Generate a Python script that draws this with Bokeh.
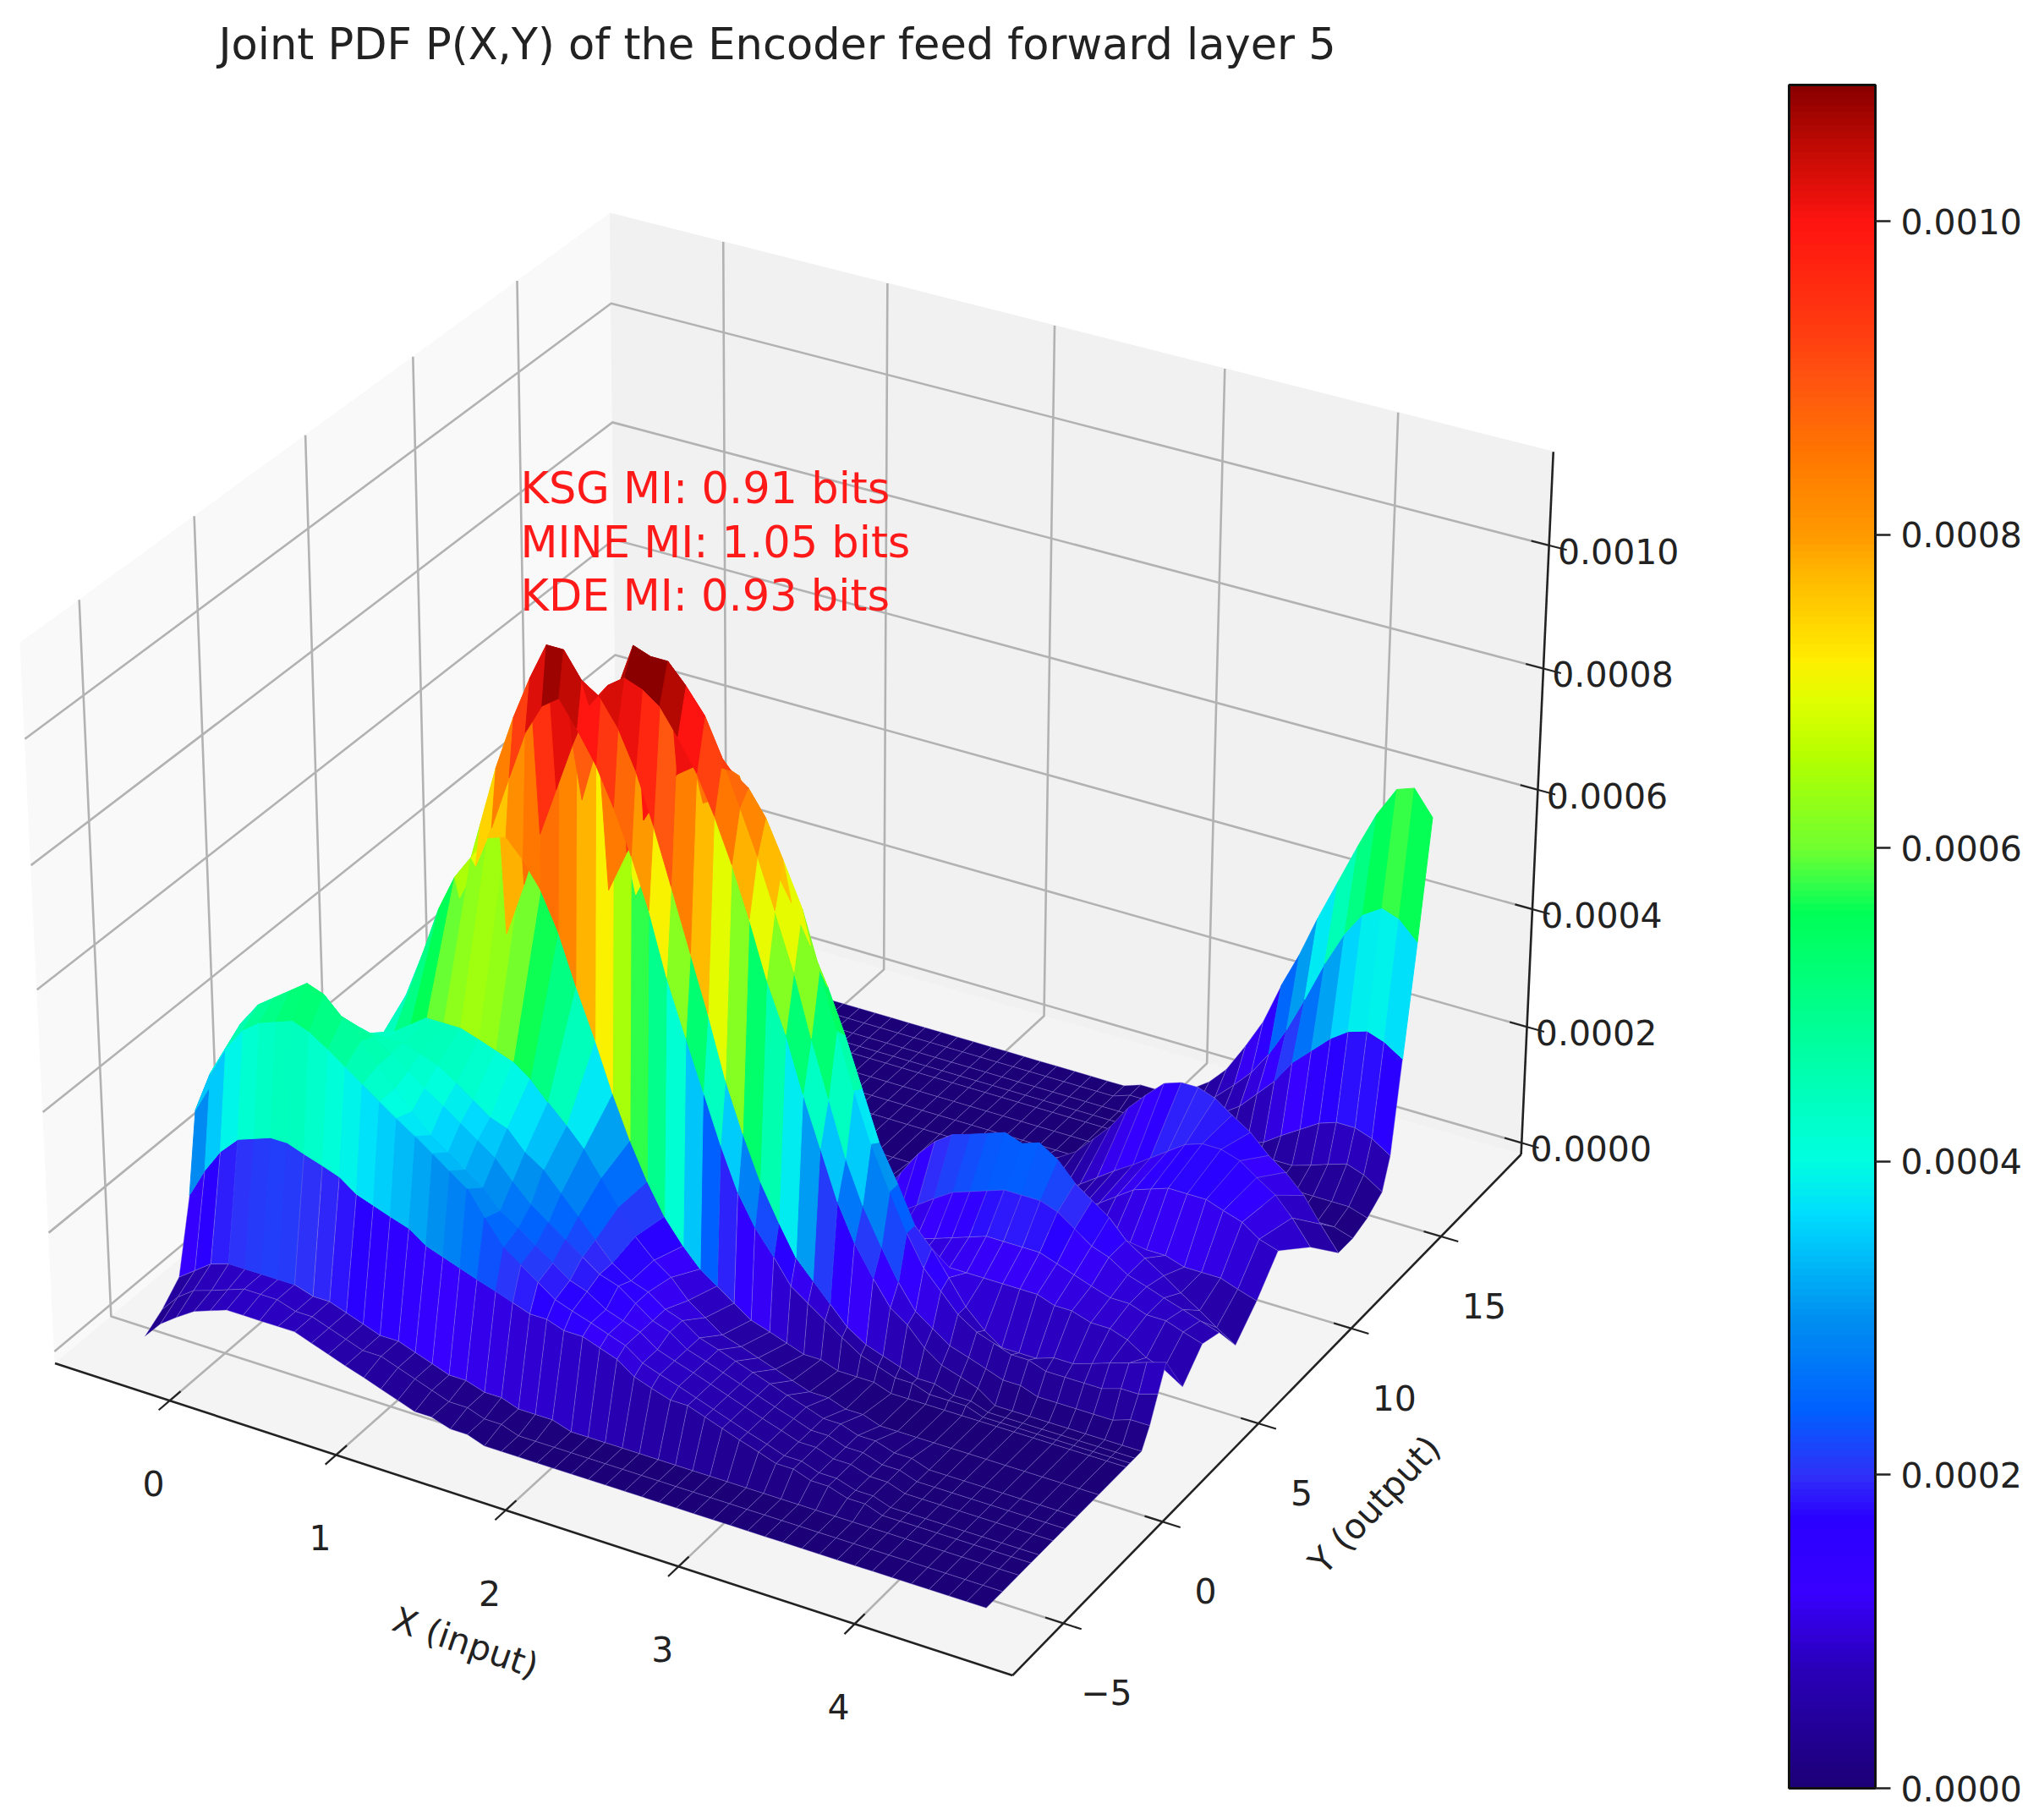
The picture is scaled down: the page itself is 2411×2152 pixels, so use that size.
import numpy as np
from bokeh.plotting import figure
from bokeh.models import Range1d, ColorBar, LinearColorMapper, FixedTicker, PrintfTickFormatter
from bokeh.core.properties import value
from bokeh.embed import file_html
from bokeh.resources import INLINE

TITLE = "Joint PDF P(X,Y) of the Encoder feed forward layer 5"
NOTES = ["KSG MI: 0.91 bits", "MINE MI: 1.05 bits", "KDE MI: 0.93 bits"]
X_LABEL = "X (input)"
Y_LABEL = "Y (output)"
X_TICKS = [0, 1, 2, 3, 4]
Y_TICKS = [-5, 0, 5, 10, 15]
Z_TICKS = [0.0, 0.0002, 0.0004, 0.0006, 0.0008, 0.0010]
Z_MAX = 0.001087

# grid coordinates
x_vals = [-0.38, -0.28, -0.18, -0.07, 0.03, 0.13, 0.23, 0.33, 0.44, 0.54, 0.64, 0.74, 0.84, 0.95, 1.05, 1.15, 1.25,
          1.35, 1.46, 1.56, 1.66, 1.76, 1.86, 1.97, 2.07, 2.17, 2.27, 2.37, 2.48, 2.58, 2.68, 2.78, 2.88, 2.99,
          3.09, 3.19, 3.29, 3.39, 3.5, 3.6, 3.7, 3.8, 3.9, 4.01, 4.12, 4.22, 4.33, 4.43, 4.54]
y_vals = [-5.8, -5.0, -4.2, -3.6, -3.2, -2.5, -1.9, -1.3, -0.2, 1.2, 1.4, 1.65, 2.0, 2.4, 2.8, 3.2, 4.1, 5.1,
          6.0, 6.9, 8.0, 9.1, 10.9, 12.5, 13.3, 14.1, 14.9, 15.3, 15.8, 16.4, 17.0]
# density, units of 1e-5; one row per y value
pdf_rows = [
    [0, 3, 5, 7, 8, 9, 9, 9, 9, 9, 8, 7, 6, 5, 4, 3, 2, 2, 1, 1] + [0] * 29,
    [2, 5, 7, 8, 9, 10, 10, 10, 9, 9, 8, 7, 6, 6, 5, 4, 3, 2, 2, 1, 1] + [0] * 28,
    [5, 7, 9, 10, 10, 10, 10, 10, 9, 9, 8, 7, 6, 6, 5, 4, 3, 3, 2, 2, 1, 1, 1] + [0] * 26,
    [17, 22, 26, 29, 30, 31, 31, 30, 29, 28, 26, 25, 24, 23, 21, 20, 19, 18, 17, 16, 15, 15, 14, 14, 13, 12, 10, 9, 8, 8,
     7, 6, 5, 4, 3, 3, 2, 2, 1, 1] + [0] * 9,
    [30, 37, 42, 46, 48, 49, 50, 49, 47, 45, 43, 41, 39, 37, 35, 33, 31, 27, 23, 21, 19, 17, 16, 15, 14, 13, 11, 10, 9, 8,
     7, 6, 5, 4, 3, 3, 2, 2, 1, 1] + [0] * 9,
    [32, 39, 44, 48, 50, 52, 54, 53, 50, 47, 44, 41, 38, 35, 33, 31, 29, 26, 24, 22, 20, 18, 17, 15, 14, 13, 11, 10, 9, 8,
     7, 6, 5, 4, 3, 3, 2, 2, 1, 1] + [0] * 9,
    [26, 32, 38, 42, 45, 47, 48, 48, 47, 46, 44, 42, 40, 38, 36, 34, 32, 29, 26, 24, 22, 20, 18, 17, 15, 13, 12, 10, 9, 8,
     7, 6, 5, 4, 3, 3, 2, 2, 1, 1] + [0] * 9,
    [20, 26, 32, 36, 40, 42, 43, 44, 44, 44, 44, 43, 42, 40, 38, 36, 35, 32, 30, 27, 24, 21, 18, 16, 15, 13, 12, 10, 9, 8,
     7, 6, 5, 4, 3, 3, 2, 2, 1, 1] + [0] * 9,
    [10, 14, 18, 22, 26, 30, 34, 38, 41, 43, 45, 45, 45, 44, 43, 42, 40, 37, 34, 31, 27, 23, 19, 16, 14, 11, 9, 7, 6, 5,
     4, 3, 2, 2, 1, 1] + [0] * 13,
    [7, 10, 14, 18, 23, 28, 35, 42, 50, 58, 64, 68, 72, 73, 70, 66, 60, 52, 44, 36, 29, 23, 18, 14, 11, 9, 7, 5, 4, 3,
     2, 2, 1, 1, 1] + [0] * 14,
    [4, 6, 9, 12, 16, 20, 27, 36, 44, 52, 60, 66, 73, 82, 90, 95, 97, 93, 88, 82, 75, 67, 57, 48, 40, 32, 25, 20, 16, 12,
     10, 8, 6, 4, 3, 2, 2, 1, 1, 1] + [0] * 9,
    [3, 5, 7, 10, 13, 17, 24, 34, 46, 54, 62, 72, 82, 91, 98, 104, 104, 100, 98, 94, 88, 80, 71, 61, 52, 42, 34, 27, 21,
     16, 13, 10, 7, 5, 4, 3, 2, 2, 1, 1] + [0] * 9,
    [2, 3, 4, 6, 8, 11, 14, 18, 23, 29, 37, 45, 54, 63, 72, 80, 88, 95, 99, 101, 100, 98, 94, 89, 83, 76, 68, 59, 51, 42,
     34, 26, 20, 15, 11, 9, 6, 4, 3, 2] + [0] * 9,
    [1, 2, 3, 4, 6, 8, 11, 14, 18, 22, 28, 35, 43, 52, 60, 69, 78, 88, 97, 105, 104, 104, 101, 97, 91, 84, 77, 69, 60, 50,
     41, 32, 25, 19, 14, 10, 8, 6, 5, 4, 3, 3, 2, 2, 2, 2, 2, 3, 3],
    [1, 1, 2, 3, 4, 6, 8, 10, 13, 16, 20, 25, 31, 38, 43, 50, 56, 63, 70, 76, 81, 85, 87, 88, 88, 86, 82, 76, 69, 60,
     51, 42, 34, 27, 21, 16, 13, 10, 8, 7, 6, 6, 5, 5, 5, 5, 6, 6, 7],
    [0, 1, 1, 2, 3, 4, 6, 8, 10, 12, 15, 19, 24, 30, 36, 42, 49, 56, 62, 68, 73, 77, 80, 82, 86, 79, 73, 68, 62, 56,
     49, 41, 33, 27, 21, 18, 14, 10, 7, 5, 5, 5, 6, 6, 7, 8, 9, 10, 11],
    [0, 0, 1, 1, 2, 3, 4, 5, 6, 8, 10, 13, 16, 20, 25, 30, 34, 38, 42, 46, 49, 51, 52, 52, 52, 52, 50, 47, 42, 35,
     27, 19, 13, 11, 11, 12, 12, 12, 12, 12, 12, 11, 11, 10, 10, 9, 7, 6, 4],
    [0, 0, 0, 0, 1, 1, 2, 2, 3, 4, 5, 7, 9, 11, 14, 17, 20, 24, 27, 30, 32, 33, 34, 34, 33, 31, 28, 25, 21, 16,
     13, 11, 11, 12, 13, 14, 15, 15, 15, 15, 14, 13, 12, 11, 11, 10, 10, 9, 8],
    [0, 0, 0, 0, 0, 0, 1, 1, 2, 2, 3, 4, 5, 6, 8, 10, 12, 14, 16, 18, 20, 21, 22, 22, 21, 20, 18, 15, 12, 10,
     11, 13, 15, 17, 18, 19, 20, 20, 20, 19, 17, 15, 14, 12, 11, 10, 9, 8, 7],
    [0, 0, 0, 0, 0, 0, 0, 0, 1, 1, 1, 2, 2, 3, 4, 5, 6, 7, 8, 9, 10, 11, 11, 11, 10, 9, 8, 8, 10, 14,
     18, 21, 23, 24, 25, 26, 25, 26, 24, 21, 19, 17, 14, 12, 10, 8, 6, 4, 2],
    [0] * 8 + [1, 1, 1, 1, 2, 2, 2, 3, 3, 3, 4, 4, 4, 4, 3, 3, 3, 2, 2, 2, 2, 3] +
    [3, 3, 4, 5, 6, 6, 7, 7, 8, 8, 9, 9, 9, 9, 8, 8, 8, 7, 6],
    [0] * 14 + [1, 1, 1, 1, 1, 1, 1, 1, 1, 1, 1, 1, 1, 1, 0, 0, 0, 1, 1, 2] +
    [3, 4, 6, 8, 10, 12, 14, 15, 16, 16, 16, 15, 14, 12, 11],
    [0] * 32 + [1, 2, 3, 5, 7, 9, 11, 13, 15, 17, 18, 18, 17, 15, 13, 10, 6],
    [0] * 31 + [1, 2, 4, 7, 10, 14, 17, 20, 21, 21, 20, 18, 16, 13, 11, 8, 4, 0],
    [0] * 42 + [1, 1, 1, 1, 1, 1, 0],
    [0] * 40 + [1, 1, 1, 2, 2, 2, 2, 2, 1],
    [0] * 37 + [1, 1, 1, 2, 2, 3, 3, 4, 5, 6, 5, 3],
    [0] * 35 + [1, 1, 1, 2, 2, 3, 4, 6, 8, 10, 11, 11, 10, 8],
    [0] * 34 + [1, 1, 2, 3, 5, 7, 10, 13, 17, 20, 23, 25, 26, 25, 23],
    [0] * 32 + [1, 1, 1, 2, 3, 5, 8, 11, 15, 20, 26, 33, 39, 43, 45, 44, 41],
    [0] * 32 + [1, 1, 1, 3, 5, 8, 13, 18, 25, 31, 38, 45, 52, 58, 63, 64, 60],
]
# colour bar stops
cmap_vals = [0, 0.000074, 0.000124, 0.000171, 0.000198, 0.00024, 0.0003, 0.000365, 0.0004, 0.00048,
             0.00056, 0.00057, 0.0006, 0.000658, 0.000695, 0.00072, 0.000775, 0.0008, 0.00085, 0.0009,
             0.000925, 0.001, 0.00105, 0.001087]
cmap_cols = ["#1c0078", "#2a00b8", "#3800ff", "#2a00ff", "#3030f8", "#0060ff", "#0090f0", "#00dcff",
             "#00ffe0", "#00ff9a", "#00ff55", "#20ff50", "#70ff30", "#b4ff00", "#e0ff00", "#ffee00",
             "#ffb800", "#ff9a00", "#ff7800", "#ff5510", "#ff4010", "#ff1410", "#c00a04", "#8a0000"]

# axes box limits
XL, XH = -0.70, 4.88
YL, YH = -7.5, 19.6
ZL, ZH = -0.00002, 0.00115

FONT = value("DejaVu Sans")


def rgb(h):
    return np.array([int(h[i:i + 2], 16) for i in (1, 3, 5)], float)


stop_rgb = np.array([rgb(c) for c in cmap_cols])


def colour(v):
    v = min(max(v, 0), Z_MAX)
    c = [np.interp(v, cmap_vals, stop_rgb[:, k]) for k in range(3)]
    return "#%02x%02x%02x" % tuple(int(round(t)) for t in c)


palette = [colour(Z_MAX * i / 255) for i in range(256)]

# view: elev 30, azim -60, same construction as a default 3D axes
asp = np.array([4, 4, 3.0])
asp = asp * 1.8294640721620434 * 25 / 24 / np.linalg.norm(asp)
el, az = np.radians(30), np.radians(-60)
R = asp / 2
E = R + 10 * np.array([np.cos(el) * np.cos(az), np.cos(el) * np.sin(az), np.sin(el)])
w = (E - R) / np.linalg.norm(E - R)
u = np.cross([0, 0, 1.0], w)
u /= np.linalg.norm(u)
vv = np.cross(w, u)


def raw(x, y, z):
    p = np.array([(x - XL) / (XH - XL), (y - YL) / (YH - YL), (z - ZL) / (ZH - ZL)]) * asp - E
    d = -p.dot(w)
    return p.dot(u) / d, p.dot(vv) / d, d


# calibration of the box corners onto the page
calib = [((XL, YL, ZL), (65, 1607)), ((XH, YL, ZL), (1196, 1984)), ((XH, YH, ZL), (1799, 1353)),
         ((XL, YL, ZH), (25, 758)), ((XL, YH, ZH), (724, 251)), ((XH, YH, ZH), (1837, 530)),
         ((XL, YH, ZL), (724, 1073))]
rx = np.array([raw(*c[0])[0] for c in calib])
ry = np.array([raw(*c[0])[1] for c in calib])
sx, tx = np.polyfit(rx, [c[1][0] for c in calib], 1)
sy, ty = np.polyfit(ry, [c[1][1] for c in calib], 1)


def P(x, y, z):
    a, b, _ = raw(x, y, z)
    return sx * a + tx, sy * b + ty


def seg(p, pts, color, width):
    s = [P(*q) for q in pts]
    p.line([q[0] for q in s], [q[1] for q in s], line_color=color, line_width=width)


p = figure(width=2403, height=2144, x_range=Range1d(0, 2403), y_range=Range1d(2144, 0),
           toolbar_location=None, output_backend="svg", min_border=0, outline_line_color=None)
p.axis.visible = False
p.grid.visible = False

# panes
for pts, col in [
    ([(XL, YL, ZL), (XL, YH, ZL), (XL, YH, ZH), (XL, YL, ZH)], "#f9f9f9"),
    ([(XL, YH, ZL), (XH, YH, ZL), (XH, YH, ZH), (XL, YH, ZH)], "#f1f1f1"),
    ([(XL, YL, ZL), (XH, YL, ZL), (XH, YH, ZL), (XL, YH, ZL)], "#f4f4f4"),
]:
    s = [P(*q) for q in pts]
    p.patch([q[0] for q in s], [q[1] for q in s], fill_color=col, line_color=col, line_width=1)

# gridlines
GC, GW = "#b2b2b2", 2.6
for t in X_TICKS:
    seg(p, [(t, YL, ZL), (t, YH, ZL), (t, YH, ZH)], GC, GW)
for t in Y_TICKS:
    seg(p, [(XH, t, ZL), (XL, t, ZL), (XL, t, ZH)], GC, GW)
for t in Z_TICKS:
    seg(p, [(XL, YL, t), (XL, YH, t), (XH, YH, t)], GC, GW)

# axis lines and tick marks
seg(p, [(XL, YL, ZL), (XH, YL, ZL)], "#222222", 2.6)
seg(p, [(XH, YL, ZL), (XH, YH, ZL)], "#222222", 2.6)
seg(p, [(XH, YH, ZL), (XH, YH, ZH)], "#222222", 2.6)
dx, dy = (XH - XL) * 0.018, (YH - YL) * 0.018
for t in X_TICKS:
    seg(p, [(t, YL + dy, ZL), (t, YL - dy, ZL)], "#222222", 2.2)
for t in Y_TICKS:
    seg(p, [(XH - dx, t, ZL), (XH + dx, t, ZL)], "#222222", 2.2)
for t in Z_TICKS:
    seg(p, [(XH - dx, YH, t), (XH + dx, YH, t)], "#222222", 2.2)

# surface, far faces first
faces = []
nx, ny = len(x_vals), len(y_vals)
for j in range(ny - 1):
    for i in range(nx - 1):
        zs = [pdf_rows[j][i], pdf_rows[j][i + 1], pdf_rows[j + 1][i + 1], pdf_rows[j + 1][i]]
        xs4 = [x_vals[i], x_vals[i + 1], x_vals[i + 1], x_vals[i]]
        ys4 = [y_vals[j], y_vals[j], y_vals[j + 1], y_vals[j + 1]]
        pts = [(a, b, c * 1e-5) for a, b, c in zip(xs4, ys4, zs)]
        depth = np.mean([raw(*q)[2] for q in pts])
        r0, r1 = (zs[0] + zs[1]) / 2, (zs[2] + zs[3]) / 2
        m = 0.7 * max(r0, r1) + 0.3 * min(r0, r1)
        if m > 90:
            m += (m - 90) * 0.5
        if m < 30 and min(r0, r1) < 14:
            m *= 0.85
        s = [P(*q) for q in pts]
        faces.append((depth, [q[0] for q in s], [q[1] for q in s], m * 1e-5))
faces.sort(key=lambda f: -f[0])
fx = [f[1] for f in faces]
fy = [f[2] for f in faces]
fc = [colour(f[3]) for f in faces]
lc = ["#8f86d8" if f[3] < 0.0002 else colour(f[3]) for f in faces]
la = [0.35 if f[3] < 0.0002 else 1.0 for f in faces]
p.patches(fx, fy, fill_color=fc, line_color=lc, line_alpha=la, line_width=1)

# tick labels
TK = "#222222"
xs_, ys_ = [], []
for t in X_TICKS:
    a, b = P(t, YL, ZL)
    xs_.append(a - 19)
    ys_.append(b + 98)
p.text(xs_, ys_, text=[str(t) for t in X_TICKS], text_font=FONT, text_font_size="41px",
       text_align="center", text_baseline="middle", text_color=TK)
xs_, ys_ = [], []
for t in Y_TICKS:
    a, b = P(XH, t, ZL)
    xs_.append(a + 51)
    ys_.append(b + 82)
p.text(xs_, ys_, text=[str(t).replace("-", "\u2212") for t in Y_TICKS], text_font=FONT,
       text_font_size="41px", text_align="center", text_baseline="middle", text_color=TK)
xs_, ys_ = [], []
for t in Z_TICKS:
    a, b = P(XH, YH, t)
    xs_.append(a + 82)
    ys_.append(b + 7)
p.text(xs_, ys_, text=["%.4f" % t for t in Z_TICKS], text_font=FONT, text_font_size="41px",
       text_align="center", text_baseline="middle", text_color=TK)

# axis titles
p.text([550], [1942], text=[X_LABEL], text_font=FONT, text_font_size="41px", angle=-0.33,
       text_align="center", text_baseline="middle", text_color=TK)
p.text([1625], [1779], text=[Y_LABEL], text_font=FONT, text_font_size="41px", angle=0.82,
       text_align="center", text_baseline="middle", text_color=TK)

# title and notes
p.text([258], [52], text=[TITLE], text_font=FONT, text_font_size="51px", text_align="left",
       text_baseline="middle", text_color="#222222")
p.text([615, 615, 615], [577, 641, 704], text=NOTES, text_font=FONT, text_font_size="51px",
       text_align="left", text_baseline="middle", text_color="#ff1a1a")

# colour bar
mapper = LinearColorMapper(palette=palette, low=0, high=Z_MAX)
cb = ColorBar(color_mapper=mapper, ticker=FixedTicker(ticks=Z_TICKS),
              formatter=PrintfTickFormatter(format="%.4f"), width=102, height=2014,
              location=(2115, 30), padding=0, margin=0, bar_line_color="#111111", bar_line_width=3,
              major_tick_line_color="#222222", major_tick_line_width=2.4, major_tick_in=0,
              major_tick_out=18, minor_tick_line_color=None, label_standoff=12,
              major_label_text_font="DejaVu Sans", major_label_text_font_size="41px",
              major_label_text_color="#222222", background_fill_color=None,
              border_line_color=None)
p.add_layout(cb, "center")

open("out.html", "w").write(file_html(p, INLINE))
